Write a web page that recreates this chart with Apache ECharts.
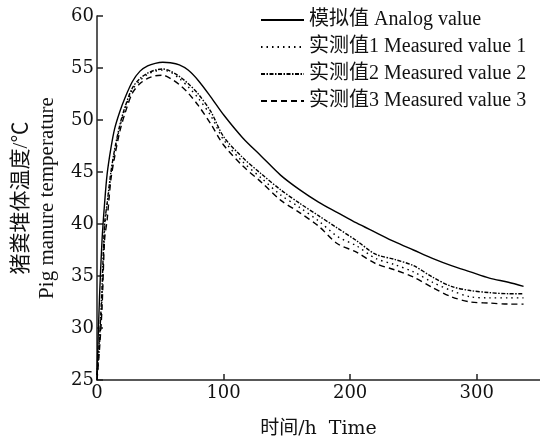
<!DOCTYPE html>
<html lang="zh">
  <head>
    <meta charset="UTF-8" />
    <title>猪粪堆体温度</title>
    <script src="https://cdn.jsdelivr.net/npm/echarts@6/dist/echarts.min.js"></script>
    <style>
      body { margin: 0; background: #fff; }
    </style>
  </head>
  <body>
    <div id="main" style="width: 540px; height: 436px"></div>
    <script type="text/javascript">
      // time in hours
      const hours = [0, 2, 4, 6, 8, 11, 14, 18, 22, 28, 34, 40, 46, 52, 58, 65, 72, 80, 90, 100,
        115, 130, 145, 160, 175, 190, 205, 220, 235, 250, 265, 280, 295, 310, 325, 337];

      const simulated = [25.5, 33, 38.5, 42, 44.8, 47.3, 49.2, 50.8, 52.1, 53.7, 54.7, 55.2, 55.45, 55.55, 55.5, 55.3, 54.8, 53.8, 52.2, 50.5,
        48.3, 46.5, 44.7, 43.3, 42.1, 41.1, 40.1, 39.2, 38.3, 37.5, 36.7, 36.0, 35.4, 34.8, 34.4, 34.0];
      const measured1 = [25.5, 28.5, 33, 39.5, 41.8, 44.8, 47, 49.3, 51.0, 52.9, 53.8, 54.4, 54.7, 54.8, 54.6, 54.0, 53.2, 52.1, 50.4, 48.1,
        46.0, 44.4, 42.8, 41.6, 40.3, 38.8, 37.9, 36.7, 36.1, 35.4, 34.4, 33.6, 33.0, 32.9, 32.9, 32.9];
      const measured2 = [25.5, 29, 34, 40, 42, 45, 47.2, 49.5, 51.2, 53.1, 54, 54.5, 54.8, 54.9, 54.7, 54.2, 53.5, 52.5, 50.8, 48.4,
        46.4, 44.8, 43.3, 42.0, 40.8, 39.6, 38.4, 37.1, 36.6, 36.0, 34.9, 34.0, 33.6, 33.4, 33.3, 33.3];
      const measured3 = [25, 28, 32, 38.5, 40.4, 44.3, 46.5, 48.9, 50.6, 52.6, 53.5, 54.0, 54.25, 54.3, 54.0, 53.4, 52.6, 51.4, 49.6, 47.6,
        45.6, 44.0, 42.3, 41.1, 39.8, 38.1, 37.3, 36.2, 35.6, 34.9, 33.9, 33.0, 32.5, 32.4, 32.3, 32.3];

      const seriesNames = ['模拟值 Analog value', '实测值1 Measured value 1', '实测值2 Measured value 2', '实测值3 Measured value 3'];
      const seriesData = [simulated, measured1, measured2, measured3];
      const dashTypes = ['solid', [1.5, 4], [4, 1.5, 1.5, 1.5], [6, 4]];

      const serif = '"Liberation Serif", "Noto Sans CJK SC", serif';
      const wideSerif = '"DejaVu Serif", "Noto Sans CJK SC", serif';

      let myChart = echarts.init(document.getElementById('main'));

      let series = seriesNames.map((name, i) => ({
        name: name,
        type: 'line',
        showSymbol: false,
        symbol: 'none',
        smooth: 0.3,
        data: hours.map((h, j) => [h, seriesData[i][j]]),
        lineStyle: { color: '#000', width: 1.4, type: dashTypes[i] },
        itemStyle: { color: '#000' }
      }));

      let options = {
        animation: false,
        textStyle: { fontFamily: serif, color: '#111' },
        grid: { left: 97, top: 16, right: 0, bottom: 56, outerBoundsMode: 'none', containLabel: false },
        legend: {
          orient: 'vertical',
          left: 255,
          top: 5,
          itemWidth: 43,
          itemHeight: 14,
          itemGap: 7,
          itemStyle: { opacity: 0 },
          textStyle: { fontFamily: serif, fontSize: 20, color: '#111' },
          data: seriesNames
        },
        xAxis: {
          type: 'value',
          min: 0,
          max: 350,
          interval: 100,
          name: '时间/h  Time',
          nameLocation: 'middle',
          nameGap: 40,
          nameTextStyle: { fontSize: 19, fontFamily: wideSerif, color: '#111' },
          axisLine: { lineStyle: { color: '#222', width: 1.5 } },
          axisTick: { inside: true, length: 6, lineStyle: { color: '#222', width: 1.5 } },
          axisLabel: {
            fontSize: 18, fontFamily: wideSerif, color: '#111', margin: 4, showMaxLabel: false,
            formatter: (v) => (v % 100 === 0 ? String(v) : '')
          },
          splitLine: { show: false }
        },
        yAxis: {
          type: 'value',
          min: 25,
          max: 60,
          interval: 5,
          name: '猪粪堆体温度/℃\nPig manure temperature',
          nameLocation: 'middle',
          nameRotate: 90,
          nameGap: 34,
          nameTextStyle: { fontSize: 21, lineHeight: 26, fontFamily: serif, color: '#111' },
          axisLine: { show: true, lineStyle: { color: '#222', width: 1.5 } },
          axisTick: { show: true, inside: true, length: 6, lineStyle: { color: '#222', width: 1.5 } },
          axisLabel: { fontSize: 18, fontFamily: wideSerif, color: '#111', margin: 3 },
          splitLine: { show: false }
        },
        series: series
      };

      myChart.setOption(options);
    </script>
  </body>
</html>
